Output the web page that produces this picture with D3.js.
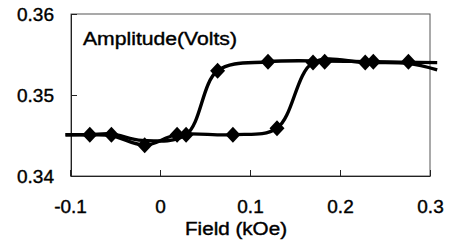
<!DOCTYPE html>
<html>
<head>
<meta charset="utf-8">
<script src="https://cdn.jsdelivr.net/npm/d3@7"></script>
<style>
  body { margin: 0; background: #fff; }
  text { font-family: "Liberation Sans", Arial, sans-serif; fill: #000; stroke: #000; stroke-width: 0.4px; }
</style>
</head>
<body>
<div id="chart"></div>
<script>
// rising-field branch (kOe, volts)
var upField = [-0.105, -0.078, -0.054, -0.017, 0.019, 0.081, 0.130, 0.170, 0.228, 0.276, 0.308];
var upAmp   = [0.3451, 0.3451, 0.3450, 0.3438, 0.3451, 0.3451, 0.3459, 0.3540, 0.3540, 0.3539, 0.3531];

// falling-field branch, listed left to right
var downField = [-0.105, -0.078, -0.054, -0.020, 0.029, 0.064, 0.120, 0.183, 0.237, 0.308];
var downAmp   = [0.3451, 0.3451, 0.3452, 0.3444, 0.3451, 0.3530, 0.3541, 0.3542, 0.3541, 0.3540];

// diamond markers
var markField = [-0.078, -0.054, -0.017, 0.019, 0.029, 0.064, 0.081, 0.120, 0.130, 0.170, 0.183, 0.228, 0.237, 0.276];
var markAmp   = [0.3451, 0.3451, 0.3438, 0.3451, 0.3451, 0.3530, 0.3451, 0.3541, 0.3459, 0.3540, 0.3541, 0.3540, 0.3541, 0.3541];

var xTicks = [-0.1, 0, 0.1, 0.2, 0.3];
var xTickLabels = ["-0.1", "0", "0.1", "0.2", "0.3"];
var yTicks = [0.34, 0.35, 0.36];
var yTickLabels = ["0.34", "0.35", "0.36"];

var width = 450, height = 247;
var plotLeft = 71, plotRight = 430, plotTop = 14, plotBottom = 176;

var svg = d3.select("#chart").append("svg")
  .attr("width", width)
  .attr("height", height);

var x = d3.scaleLinear().domain([-0.1, 0.3]).range([70, 430]);
var y = d3.scaleLinear().domain([0.34, 0.36]).range([plotBottom, plotTop]);

// frame
svg.append("rect")
  .attr("x", plotLeft).attr("y", plotTop)
  .attr("width", plotRight - plotLeft).attr("height", plotBottom - plotTop)
  .attr("fill", "none").attr("stroke", "#555").attr("stroke-width", 1);

// axes with inward ticks
svg.append("g")
  .attr("transform", "translate(0," + plotBottom + ")")
  .call(d3.axisBottom(x).tickValues(xTicks).tickSizeInner(-6).tickSizeOuter(0)
    .tickFormat(function (d, i) { return xTickLabels[i]; }))
  .call(function (g) {
    g.select(".domain").attr("stroke", "#222");
    g.selectAll(".tick line").attr("stroke", "#222");
    g.selectAll(".tick text").attr("y", 37).attr("dy", 0)
      .style("font-size", "19px").style("font-family", "Liberation Sans, Arial, sans-serif");
  });

svg.append("g")
  .attr("transform", "translate(" + plotLeft + ",0)")
  .call(d3.axisLeft(y).tickValues(yTicks).tickSizeInner(-6).tickSizeOuter(0)
    .tickFormat(function (d, i) { return yTickLabels[i]; }))
  .call(function (g) {
    g.select(".domain").attr("stroke", "#222");
    g.selectAll(".tick line").attr("stroke", "#222");
    g.selectAll(".tick text").attr("x", -17).attr("dy", "0.36em")
      .style("font-size", "19px").style("font-family", "Liberation Sans, Arial, sans-serif");
  });

// curves
var line = d3.line()
  .x(function (d) { return x(d[0]); })
  .y(function (d) { return y(d[1]); })
  .curve(d3.curveCatmullRom.alpha(0.5));

[[upField, upAmp], [downField, downAmp]].forEach(function (s) {
  svg.append("path")
    .datum(d3.zip(s[0], s[1]))
    .attr("d", line)
    .attr("fill", "none")
    .attr("stroke", "#000")
    .attr("stroke-width", 3.4);
});

// markers
svg.selectAll("path.mark")
  .data(d3.zip(markField, markAmp))
  .enter().append("path")
  .attr("class", "mark")
  .attr("transform", function (d) { return "translate(" + x(d[0]) + "," + y(d[1]) + ")"; })
  .attr("d", "M0,-8L7.5,0L0,8L-7.5,0Z")
  .attr("fill", "#000");

// labels
svg.append("text")
  .attr("x", 83).attr("y", 45)
  .attr("textLength", 154).attr("lengthAdjust", "spacingAndGlyphs")
  .style("font-size", "18px")
  .text("Amplitude(Volts)");

svg.append("text")
  .attr("x", 185).attr("y", 235)
  .attr("textLength", 102).attr("lengthAdjust", "spacingAndGlyphs")
  .style("font-size", "18px")
  .text("Field (kOe)");
</script>
</body>
</html>
